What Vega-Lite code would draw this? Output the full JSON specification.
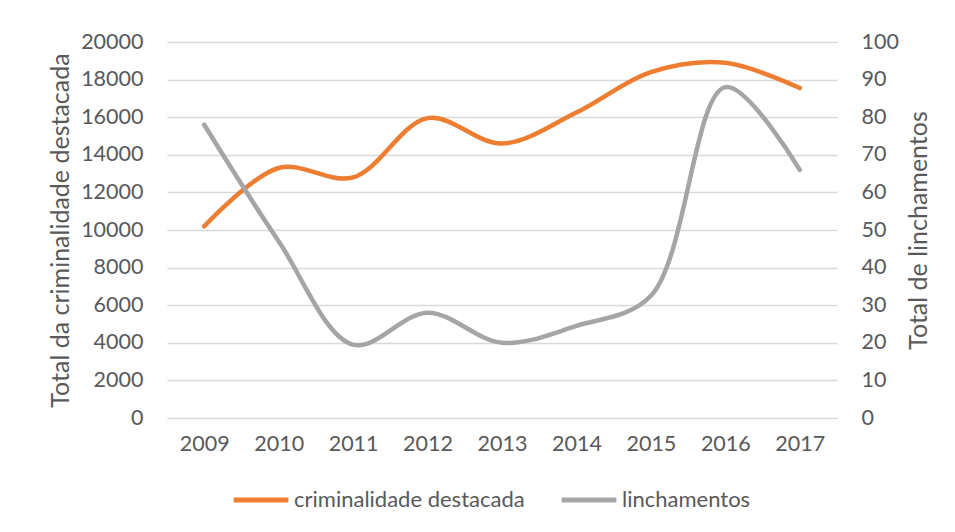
{
  "$schema": "https://vega.github.io/schema/vega-lite/v6.json",
  "autosize": {"type": "none"},
  "padding": {"left": 167, "top": 42, "right": 118, "bottom": 114},
  "width": 670,
  "height": 376,
  "background": "white",
  "config": {
    "view": {"stroke": null},
    "font": "Lato",
    "axis": {"labelFont": "Lato", "titleFont": "Lato", "labelColor": "#595959", "titleColor": "#595959", "labelFontSize": 21.5, "titleFontSize": 25, "titleFontWeight": "normal", "domain": false, "ticks": false, "gridColor": "#d9d9d9", "gridWidth": 1.5, "labelOverlap": false},
    "legend": {"labelFont": "Lato", "labelFontSize": 22, "labelColor": "#595959", "labelLimit": 0}
  },
  "data": {"values": [
    {"year": "2009", "series": "criminalidade destacada", "value": 10200},
    {"year": "2010", "series": "criminalidade destacada", "value": 13300},
    {"year": "2011", "series": "criminalidade destacada", "value": 12800},
    {"year": "2012", "series": "criminalidade destacada", "value": 15950},
    {"year": "2013", "series": "criminalidade destacada", "value": 14600},
    {"year": "2014", "series": "criminalidade destacada", "value": 16250},
    {"year": "2015", "series": "criminalidade destacada", "value": 18400},
    {"year": "2016", "series": "criminalidade destacada", "value": 18900},
    {"year": "2017", "series": "criminalidade destacada", "value": 17550},
    {"year": "2009", "series": "linchamentos", "value": 78},
    {"year": "2010", "series": "linchamentos", "value": 47},
    {"year": "2011", "series": "linchamentos", "value": 19.5},
    {"year": "2012", "series": "linchamentos", "value": 28},
    {"year": "2013", "series": "linchamentos", "value": 20},
    {"year": "2014", "series": "linchamentos", "value": 24.5},
    {"year": "2015", "series": "linchamentos", "value": 32.5},
    {"year": "2016", "series": "linchamentos", "value": 88},
    {"year": "2017", "series": "linchamentos", "value": 66}
  ]},
  "encoding": {
    "x": {"field": "year", "type": "ordinal", "scale": {"type": "point", "padding": 0.5}, "axis": {"title": null, "labelAngle": 0, "labelPadding": 15, "grid": false}},
    "color": {"field": "series", "type": "nominal", "scale": {"domain": ["criminalidade destacada", "linchamentos"], "range": ["#ED7D31", "#A5A5A5"]},
      "legend": {"title": null, "orient": "none", "direction": "horizontal", "legendX": 64, "legendY": 428, "symbolType": "stroke", "symbolStrokeWidth": 5, "symbolSize": 3000, "columnPadding": 26, "labelOffset": 3}}
  },
  "layer": [
    {
      "transform": [{"filter": "datum.series === 'criminalidade destacada'"}],
      "mark": {"type": "line", "interpolate": "catmull-rom", "strokeWidth": 4.5, "strokeCap": "round"},
      "encoding": {"y": {"field": "value", "type": "quantitative", "scale": {"domain": [0, 20000]}, "axis": {"title": "Total da criminalidade destacada", "orient": "left", "values": [0,2000,4000,6000,8000,10000,12000,14000,16000,18000,20000], "format": "d", "labelPadding": 24, "titlePadding": 7}}}
    },
    {
      "transform": [{"filter": "datum.series === 'linchamentos'"}],
      "mark": {"type": "line", "interpolate": "catmull-rom", "strokeWidth": 4.5, "strokeCap": "round"},
      "encoding": {"y": {"field": "value", "type": "quantitative", "scale": {"domain": [0, 100]}, "axis": {"title": "Total de linchamentos", "orient": "right", "values": [0,10,20,30,40,50,60,70,80,90,100], "grid": false, "labelPadding": 24, "titlePadding": 33, "titleAngle": -90}}}
    }
  ],
  "resolve": {"scale": {"y": "independent"}}
}
